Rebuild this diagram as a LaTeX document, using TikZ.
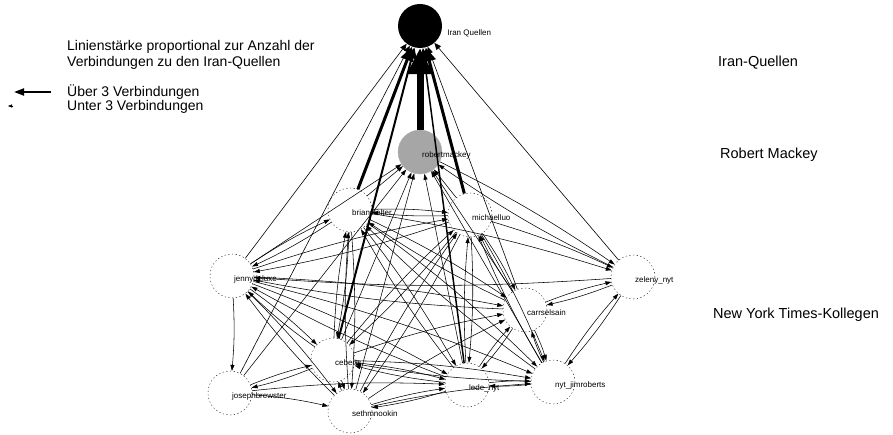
\documentclass[tikz,border=0pt]{standalone}
\usepackage{fontspec}
\setmainfont{Liberation Sans}
\usetikzlibrary{positioning,arrows.meta}

\tikzset{
  person/.style={circle,draw,dash pattern=on 1.2pt off 2.5pt,fill=white,minimum size=44pt,inner sep=0pt},
  lbl/.style={font=\fontsize{8}{9}\selectfont,inner sep=0pt,anchor=west},
  big/.style={font=\fontsize{14.5}{16}\selectfont,inner sep=0pt,anchor=west,align=left},
  tie/.style={-{Triangle[length=6pt,width=4pt]},line width=0.55pt,bend left=4},
  src/.style={-{Triangle[length=5pt 3,width=4pt 3]},line width=#1}
}

\begin{document}
\begin{tikzpicture}[x=1pt,y=-1pt]
\useasboundingbox (0,0) rectangle (893,435);
% sources and the blog
\node[circle,fill=black,minimum size=44pt] (iran) at (420,26) {};
\node[circle,fill=gray!70,draw=gray!60,minimum size=44pt] (rm) at (420,152) {};
% colleagues
\node[person] (bs) at (350,210) {};
\node[person] (ml) at (470,215) {};
\node[person] (jd) at (232,276) {};
\node[person] (jb) at (230,393) {};
\node[person] (cb) at (333,360) {};
\node[person] (sm) at (350,411) {};
\node[person] (ld) at (467,385) {};
\node[person] (ny) at (553,382) {};
\node[person] (cs) at (525,310) {};
\node[person] (zl) at (633,277) {};

% links between colleagues
\foreach \a/\b in {bs/ml,ml/bs,bs/jd,jd/bs,bs/cb,cb/bs,bs/sm,sm/bs,bs/ld,ld/bs,bs/ny,ny/bs,bs/cs,cs/bs,bs/zl,
  ml/jd,jd/ml,ml/cb,cb/ml,ml/sm,sm/ml,ml/ld,ld/ml,ml/cs,cs/ml,ml/ny,ny/ml,ml/zl,
  jd/jb,jd/cb,cb/jd,jd/sm,sm/jd,jd/ld,ld/jd,jd/ny,jd/cs,cs/jd,zl/jd,
  jb/cb,cb/jb,jb/sm,jb/ld,cb/sm,sm/cb,cb/ld,ld/cb,cb/ny,ny/cb,cb/cs,
  sm/ld,ld/sm,sm/cs,sm/ny,ld/ny,ny/ld,ld/cs,cs/ld,cs/ny,ny/cs,cs/zl,zl/cs,ny/zl,zl/ny,rm/zl,zl/rm}
  \draw[tie] (\a) to (\b);
% links to the blog
\foreach \a in {bs,ml,jd,jb,cb,sm,ld,ny,cs}
  \draw[tie,bend left=0] (\a) to (rm);
% links to the sources
\foreach \a/\w in {rm/7pt,bs/3pt,ml/3pt,cb/2pt,ld/1.5pt,jd/0.6pt,zl/0.6pt,cs/0.6pt,jb/0.6pt}
  \draw[src=\w] (\a) -- (iran);

% names
\node[lbl] at ([shift={(5,7)}]iran.east) {Iran Quellen};
\foreach \n/\t in {rm/robertmackey,bs/brianstelter,ml/michaelluo,jd/jennydeluxe,jb/josephbrewster,
  cb/ceberts,sm/sethmnookin,ld/lede\_nyt,ny/nyt\_jimroberts,cs/carrselsain,zl/zeleny\_nyt}
  \node[lbl] at ([shift={(2,3)}]\n.center) {\t};

% legend
\node[big,font=\fontsize{14}{16}\selectfont] (note) at (67,55) {Linienstärke proportional zur Anzahl der\\Verbindungen zu den Iran-Quellen};
\node[big,font=\fontsize{14}{16}\selectfont] (over) at (67,92) {Über 3 Verbindungen};
\node[big,font=\fontsize{14}{16}\selectfont] (under) at (67,107) {Unter 3 Verbindungen};
\coordinate (o1) at (51,92);
\coordinate (o2) at (14,92);
\coordinate (u1) at (12,106);
\coordinate (u2) at (8,106);
\draw[-{Triangle[length=10pt,width=7pt]},line width=2pt] (o1) -- (o2);
\draw[-{Triangle[length=4pt,width=3pt]},line width=0.4pt] (u1) -- (u2);

% levels
\node[big] (lvIran) at (718,63) {Iran-Quellen};
\node[big] (lvBlog) at (720,155) {Robert Mackey};
\node[big] (lvNyt) at (713,315) {New York Times-Kollegen};
\end{tikzpicture}
\end{document}
